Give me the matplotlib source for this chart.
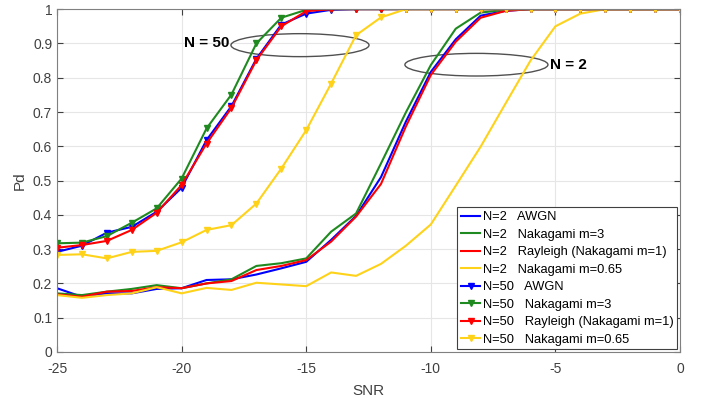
import matplotlib.pyplot as plt
import numpy as np
from matplotlib.patches import Ellipse

plt.rcParams['font.family'] = ['Liberation Sans', 'DejaVu Sans']
plt.rcParams['axes.unicode_minus'] = False

snr = np.arange(-25, 1)

# N = 2 curves (no markers)
n2_awgn = [0.186, 0.161, 0.171, 0.171, 0.184, 0.186, 0.210, 0.212, 0.226, 0.244,
           0.263, 0.327, 0.397, 0.51, 0.672, 0.817, 0.912, 0.981, 0.995, 1.0,
           1.0, 1.0, 1.0, 1.0, 1.0, 1.0]
n2_m3 = [0.171, 0.166, 0.176, 0.184, 0.195, 0.186, 0.200, 0.212, 0.251, 0.259,
         0.273, 0.351, 0.404, 0.55, 0.699, 0.837, 0.943, 0.990, 0.998, 1.0,
         1.0, 1.0, 1.0, 1.0, 1.0, 1.0]
n2_ray = [0.168, 0.161, 0.176, 0.178, 0.189, 0.186, 0.200, 0.207, 0.239, 0.251,
          0.268, 0.322, 0.395, 0.49, 0.658, 0.808, 0.905, 0.975, 0.995, 1.0,
          1.0, 1.0, 1.0, 1.0, 1.0, 1.0]
n2_m065 = [0.166, 0.158, 0.166, 0.171, 0.189, 0.171, 0.187, 0.181, 0.202, 0.197,
           0.192, 0.232, 0.222, 0.257, 0.31, 0.372, 0.485, 0.599, 0.725, 0.85,
           0.950, 0.987, 1.0, 1.0, 1.0, 1.0]

# N = 50 curves (triangle markers)
n50_awgn = [0.292, 0.31, 0.348, 0.365, 0.409, 0.479, 0.618, 0.717, 0.855, 0.955,
            0.987, 0.998, 1.0, 1.0, 1.0, 1.0, 1.0, 1.0, 1.0, 1.0,
            1.0, 1.0, 1.0, 1.0, 1.0, 1.0]
n50_m3 = [0.317, 0.319, 0.338, 0.377, 0.419, 0.506, 0.652, 0.751, 0.90, 0.975,
          0.998, 1.0, 1.0, 1.0, 1.0, 1.0, 1.0, 1.0, 1.0, 1.0,
          1.0, 1.0, 1.0, 1.0, 1.0, 1.0]
n50_ray = [0.304, 0.312, 0.324, 0.356, 0.406, 0.487, 0.608, 0.712, 0.851, 0.950,
           0.994, 1.0, 1.0, 1.0, 1.0, 1.0, 1.0, 1.0, 1.0, 1.0,
           1.0, 1.0, 1.0, 1.0, 1.0, 1.0]
n50_m065 = [0.283, 0.285, 0.273, 0.292, 0.295, 0.32, 0.356, 0.370, 0.433, 0.535,
            0.647, 0.783, 0.924, 0.976, 1.0, 1.0, 1.0, 1.0, 1.0, 1.0,
            1.0, 1.0, 1.0, 1.0, 1.0, 1.0]

blue = '#0000ff'
green = '#1f8a1f'
red = '#ff0000'
yellow = '#ffd21a'

fig = plt.figure(figsize=(7.02, 3.98), dpi=100)
ax = fig.add_axes([0.0812, 0.1156, 0.8875, 0.8614])

lw = 1.5
ax.plot(snr, n2_awgn, color=blue, lw=lw, label='N=2   AWGN')
ax.plot(snr, n2_m3, color=green, lw=lw, label='N=2   Nakagami m=3')
ax.plot(snr, n2_ray, color=red, lw=lw, label='N=2   Rayleigh (Nakagami m=1)')
ax.plot(snr, n2_m065, color=yellow, lw=lw, label='N=2   Nakagami m=0.65')
ms = 5
ax.plot(snr, n50_awgn, color=blue, lw=lw, marker='v', ms=ms, label='N=50   AWGN')
ax.plot(snr, n50_m3, color=green, lw=lw, marker='v', ms=ms, label='N=50   Nakagami m=3')
ax.plot(snr, n50_ray, color=red, lw=lw, marker='v', ms=ms, label='N=50   Rayleigh (Nakagami m=1)')
ax.plot(snr, n50_m065, color=yellow, lw=lw, marker='v', ms=ms, label='N=50   Nakagami m=0.65')

# annotation ellipses
ax.add_patch(Ellipse((-15.25, 0.895), 5.54, 0.067, fill=False, ec='#505050', lw=1))
ax.add_patch(Ellipse((-8.17, 0.838), 5.74, 0.066, fill=False, ec='#505050', lw=1))
ax.text(-18.1, 0.90, 'N = 50', fontsize=11, fontweight='bold', ha='right', va='center')
ax.text(-5.2, 0.838, 'N = 2', fontsize=11, fontweight='bold', ha='left', va='center')

ax.set_xlim(-25, 0)
ax.set_ylim(0, 1)
ax.set_xticks(np.arange(-25, 1, 5))
ax.set_yticks(np.arange(0, 1.01, 0.1))
ax.set_yticklabels(['0', '0.1', '0.2', '0.3', '0.4', '0.5', '0.6', '0.7', '0.8', '0.9', '1'])
ax.grid(True, color='#e6e6e6', lw=0.8)
ax.set_axisbelow(True)
ax.tick_params(direction='in', top=True, right=True, labelsize=10, colors='#404040', length=4)
ax.tick_params(axis='x', pad=7)
for s in ax.spines.values():
    s.set_color('#808080')
ax.set_xlabel('SNR', fontsize=11, color='#404040', labelpad=6)
ax.set_ylabel('Pd', fontsize=11, color='#404040')

leg = ax.legend(loc='lower right', fontsize=9.3, handlelength=1.5, handletextpad=0.2,
                borderaxespad=0.2, labelspacing=0.42, borderpad=0.3, fancybox=False,
                framealpha=1, edgecolor='#404040')
leg.get_frame().set_linewidth(0.8)

fig.savefig('out.png', dpi=100)
